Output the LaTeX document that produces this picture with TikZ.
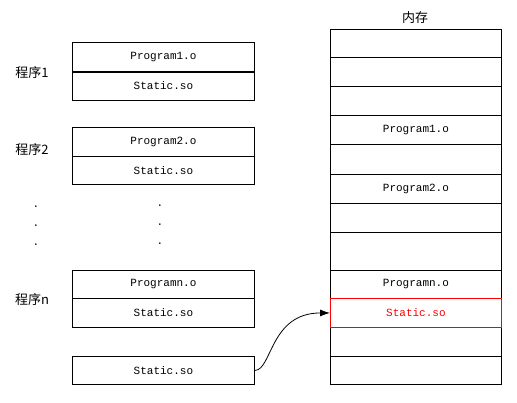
\documentclass[tikz,border=0pt]{standalone}
\usepackage{fontspec}
\setmonofont{Liberation Mono}
\newfontfamily\cjk{Noto Sans CJK SC}
\newfontfamily\monof{Liberation Mono}
\usetikzlibrary{arrows.meta}
\begin{document}
\begin{tikzpicture}[x=1pt,y=-1pt,
  cell/.style={draw=black,line width=0.9pt,rectangle,inner sep=0pt,anchor=north west,
    font=\monof\fontsize{11}{12}\selectfont},
  lcell/.style={cell,minimum width=182pt,minimum height=29pt},
  rcell/.style={cell,minimum width=171pt,minimum height=29pt},
  lab/.style={font=\cjk\fontsize{13}{15}\selectfont,inner sep=0pt},
  dotlab/.style={font=\monof\fontsize{11}{12}\selectfont,inner sep=0pt}]
\useasboundingbox (0,0) rectangle (517,402);
% left programs
\node[lcell] (p1) at (72,42) {Program1.o};
\node[lcell] (s1) at (72,71) {Static.so};
\draw[line width=1.8pt] (p1.south west) -- (p1.south east);
\node[lcell] (p2) at (72,127) {Program2.o};
\node[lcell,minimum height=28pt] (s2) at (72,156) {Static.so};
\node[lcell,minimum height=28pt] (pn) at (72,270) {Programn.o};
\node[lcell] (sn) at (72,298) {Static.so};
\node[lcell,minimum height=28pt] (st) at (72,356) {Static.so};
% labels
\node[lab] (l1) at (32,73) {程序1};
\node[lab] (l2) at (32,150) {程序2};
\node[lab] (ln) at (32,300) {程序n};
\node[lab] (mem) at (415,18) {内存};
% dots
\node[dotlab] (d1) at (36,207) {.};
\node[dotlab] (d2) at (36,226) {.};
\node[dotlab] (d3) at (36,245) {.};
\node[dotlab] (d4) at (160,206) {.};
\node[dotlab] (d5) at (160,225) {.};
\node[dotlab] (d6) at (160,244) {.};
% memory column
\node[rcell,minimum height=28pt] (m1) at (330,29) {};
\node[rcell] (m2) at (330,57) {};
\node[rcell] (m3) at (330,86) {};
\node[rcell] (m4) at (330,115) {Program1.o};
\node[rcell,minimum height=30pt] (m5) at (330,144) {};
\node[rcell] (m6) at (330,174) {Program2.o};
\node[rcell] (m7) at (330,203) {};
\node[rcell,minimum height=38pt] (m8) at (330,232) {};
\node[rcell,minimum height=28pt] (m9) at (330,270) {Programn.o};
\node[rcell] (m11) at (330,327) {};
\node[rcell,minimum height=28pt] (m12) at (330,356) {};
\node[rcell,draw=red,text=red] (m10) at (330,298) {Static.so};
% arrow
\draw[line width=0.8pt,-{Latex[length=10pt,width=7pt]}] (st.east) .. controls (272,370) and (270,313) .. (m10.west);
\end{tikzpicture}
\end{document}
